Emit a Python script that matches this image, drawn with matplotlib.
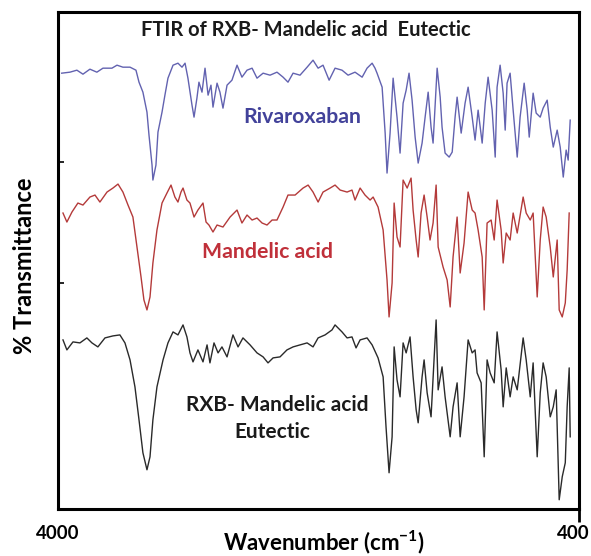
import numpy as np
import matplotlib.pyplot as plt
import matplotlib.transforms as mtransforms
import matplotlib
matplotlib.rcParams['font.family'] = ['Lato', 'DejaVu Sans']
matplotlib.rcParams['font.weight'] = 'bold'
matplotlib.rcParams['mathtext.fontset'] = 'custom'
matplotlib.rcParams['mathtext.rm'] = 'Lato:bold'
matplotlib.rcParams['mathtext.bf'] = 'Lato:bold'

# values (arbitrary, stacked %T units)
rxb_wn = [3974, 3917, 3869, 3827, 3779, 3731, 3689, 3627, 3592, 3551, 3502, 3461, 3440, 3413,
          3385, 3371, 3350, 3344, 3323, 3309, 3281, 3261, 3240, 3205, 3171, 3143, 3122, 3102,
          3074, 3060, 3040, 3026, 3005, 2984, 2963, 2943, 2929, 2901, 2881, 2860, 2832, 2798,
          2763, 2729, 2694, 2659, 2625, 2583, 2535, 2487, 2445, 2411, 2376, 2328, 2279, 2238,
          2203, 2169, 2127, 2086, 2038, 1996, 1948, 1899, 1865, 1830, 1810, 1796, 1761, 1740,
          1727, 1706, 1685, 1658, 1637, 1616, 1595, 1575, 1554, 1533, 1512, 1485, 1464, 1443,
          1423, 1409, 1381, 1360, 1347, 1326, 1298, 1277, 1257, 1243, 1215, 1188, 1167, 1139,
          1119, 1098, 1070, 1049, 1029, 1001, 980, 967, 946, 925, 911, 898, 877, 856, 828, 808,
          780, 759, 745, 718, 697, 669, 649, 621, 600, 579, 552, 531, 510, 490, 476, 462]
rxb_t = [436, 437, 439, 435, 440, 437, 441, 441, 444, 442, 442, 439, 427, 417,
         397, 374, 344, 329, 344, 377, 397, 414, 431, 444, 446, 442, 446, 431,
         404, 392, 411, 427, 417, 441, 414, 424, 402, 426, 417, 401, 424, 429,
         444, 432, 439, 441, 431, 436, 434, 437, 432, 427, 436, 434, 442, 449,
         441, 444, 429, 441, 439, 434, 437, 432, 441, 446, 441, 436, 422, 376,
         336, 376, 431, 392, 356, 406, 419, 436, 409, 372, 346, 366, 392, 417,
         382, 366, 441, 412, 382, 356, 352, 357, 392, 412, 376, 406, 422, 392,
         369, 399, 366, 406, 432, 399, 352, 422, 444, 416, 379, 426, 436, 399, 352, 392,
         426, 399, 372, 416, 396, 392, 401, 409, 382, 362, 379, 362, 332, 359, 349, 389]

ma_wn = [3965, 3938, 3903, 3862, 3827, 3779, 3744, 3710, 3661, 3620, 3585, 3551, 3516, 3482,
         3454, 3426, 3406, 3385, 3364, 3344, 3316, 3281, 3247, 3219, 3192, 3171, 3150, 3136,
         3109, 3088, 3060, 3033, 2998, 2977, 2957, 2929, 2901, 2860, 2811, 2763, 2729, 2694,
         2659, 2625, 2590, 2556, 2521, 2487, 2445, 2411, 2362, 2307, 2272, 2238, 2203, 2169,
         2120, 2086, 2051, 2003, 1969, 1948, 1913, 1879, 1844, 1823, 1789, 1754, 1727, 1713,
         1692, 1678, 1658, 1637, 1616, 1588, 1561, 1547, 1526, 1512, 1492, 1471, 1450, 1430,
         1409, 1388, 1374, 1340, 1312, 1291, 1271, 1243, 1222, 1195, 1167, 1139, 1119, 1098,
         1070, 1056, 1036, 1008, 987, 967, 939, 925, 904, 877, 856, 828, 787, 766, 738, 718,
         690, 669, 649, 628, 600, 579, 552, 538, 517, 496, 483, 469]
ma_t = [296, 287, 297, 306, 304, 312, 314, 307, 317, 321, 325, 317, 304, 292,
        262, 232, 209, 199, 212, 246, 279, 306, 316, 324, 312, 307, 317, 321,
        309, 306, 292, 299, 306, 287, 284, 277, 284, 282, 292, 299, 286, 294,
        289, 291, 286, 284, 289, 289, 302, 314, 314, 321, 324, 317, 307, 317,
        321, 324, 319, 317, 319, 309, 321, 314, 309, 312, 302, 279, 229, 192,
        226, 306, 272, 262, 329, 321, 331, 299, 269, 252, 296, 314, 292, 269,
        286, 324, 262, 242, 229, 202, 252, 292, 236, 266, 317, 299, 296, 279,
        252, 199, 286, 289, 269, 309, 279, 246, 276, 269, 296, 276, 312, 296, 289, 296,
        212, 269, 302, 292, 262, 232, 269, 199, 192, 206, 239, 296]

eut_wn = [3965, 3938, 3896, 3848, 3800, 3765, 3724, 3675, 3620, 3572, 3537, 3502, 3468, 3440,
          3413, 3385, 3364, 3344, 3316, 3274, 3240, 3205, 3171, 3136, 3109, 3088, 3067, 3033,
          2998, 2970, 2950, 2922, 2894, 2867, 2832, 2791, 2756, 2722, 2673, 2625, 2583, 2549,
          2514, 2466, 2418, 2376, 2328, 2279, 2238, 2203, 2155, 2107, 2086, 2038, 2003, 1969,
          1941, 1913, 1865, 1830, 1789, 1754, 1734, 1713, 1692, 1678, 1658, 1637, 1616, 1595,
          1568, 1547, 1526, 1512, 1485, 1471, 1450, 1423, 1388, 1374, 1347, 1326, 1291, 1271,
          1243, 1222, 1195, 1167, 1139, 1119, 1105, 1077, 1056, 1036, 1015, 987, 967, 939,
          925, 904, 877, 856, 828, 787, 766, 738, 718, 690, 669, 649, 628, 600, 579, 559,
          538, 517, 496, 483, 469, 462]
eut_t = [169, 159, 167, 166, 171, 166, 162, 171, 173, 174, 166, 149, 122, 89,
         56, 39, 52, 89, 122, 149, 166, 177, 174, 184, 172, 156, 147, 159,
         147, 164, 146, 166, 156, 162, 152, 174, 162, 171, 164, 156, 152, 146,
         151, 152, 159, 162, 164, 166, 162, 171, 174, 179, 184, 177, 171, 172,
         161, 169, 171, 164, 151, 132, 82, 36, 72, 162, 129, 112, 166, 156,
         172, 132, 99, 86, 132, 149, 116, 92, 189, 119, 142, 112, 72, 102,
         126, 72, 112, 169, 156, 159, 136, 126, 52, 149, 136, 126, 177, 139,
         102, 141, 112, 132, 119, 171, 149, 112, 146, 52, 116, 146, 132, 92, 102, 119,
         9, 32, 46, 102, 141, 72]

fig = plt.figure(figsize=(5.91, 5.56), dpi=100)
ax = fig.add_axes([0.098, 0.085, 0.882, 0.893])

ax.plot(rxb_wn, rxb_t, color='#6262b0', lw=1.0)
ax.plot(ma_wn, ma_t, color='#b43a3a', lw=1.0)
ax.plot(eut_wn, eut_t, color='#2a2a2a', lw=1.0)

ax.set_xlim(4000, 400)
ax.set_ylim(0, 497)

for s in ax.spines.values():
    s.set_linewidth(2.2)

ax.set_xticks([4000, 400])
ax.set_xticklabels(['4000', '400'], fontsize=13.5, fontweight='bold')
ax.tick_params(axis='x', direction='out', length=9, width=2, pad=3)
ax.xaxis.get_major_ticks()[0].tick1line.set_visible(False)
lab = ax.get_xticklabels()[1]
lab.set_transform(lab.get_transform() + mtransforms.ScaledTranslation(-0.06, 0, fig.dpi_scale_trans))

ax.set_yticks([226, 347])
ax.set_yticklabels([])
ax.tick_params(axis='y', direction='in', length=4, width=1.2)

ax.set_xlabel('Wavenumber (cm$^{\\mathbf{-1}}$)', fontsize=16, fontweight='bold')
ax.xaxis.set_label_coords(0.51, -0.040)
ax.set_ylabel('% Transmittance', fontsize=17, fontweight='bold')
ax.yaxis.set_label_coords(-0.042, 0.49)

ax.text(0.476, 0.964, 'FTIR of RXB- Mandelic acid  Eutectic', transform=ax.transAxes,
        ha='center', va='center', fontsize=14.5, fontweight='bold', color='#1a1a1a')
ax.text(2314, 392, 'Rivaroxaban', ha='center', va='center', fontsize=15.3,
        fontweight='bold', color='#42429a')
ax.text(2556, 257, 'Mandelic acid', ha='center', va='center', fontsize=15.3,
        fontweight='bold', color='#c0303a')
ax.text(2487, 104, 'RXB- Mandelic acid', ha='center', va='center', fontsize=15,
        fontweight='bold', color='#1a1a1a')
ax.text(2521, 77, 'Eutectic', ha='center', va='center', fontsize=15,
        fontweight='bold', color='#1a1a1a')

fig.savefig('out.png', dpi=100)
